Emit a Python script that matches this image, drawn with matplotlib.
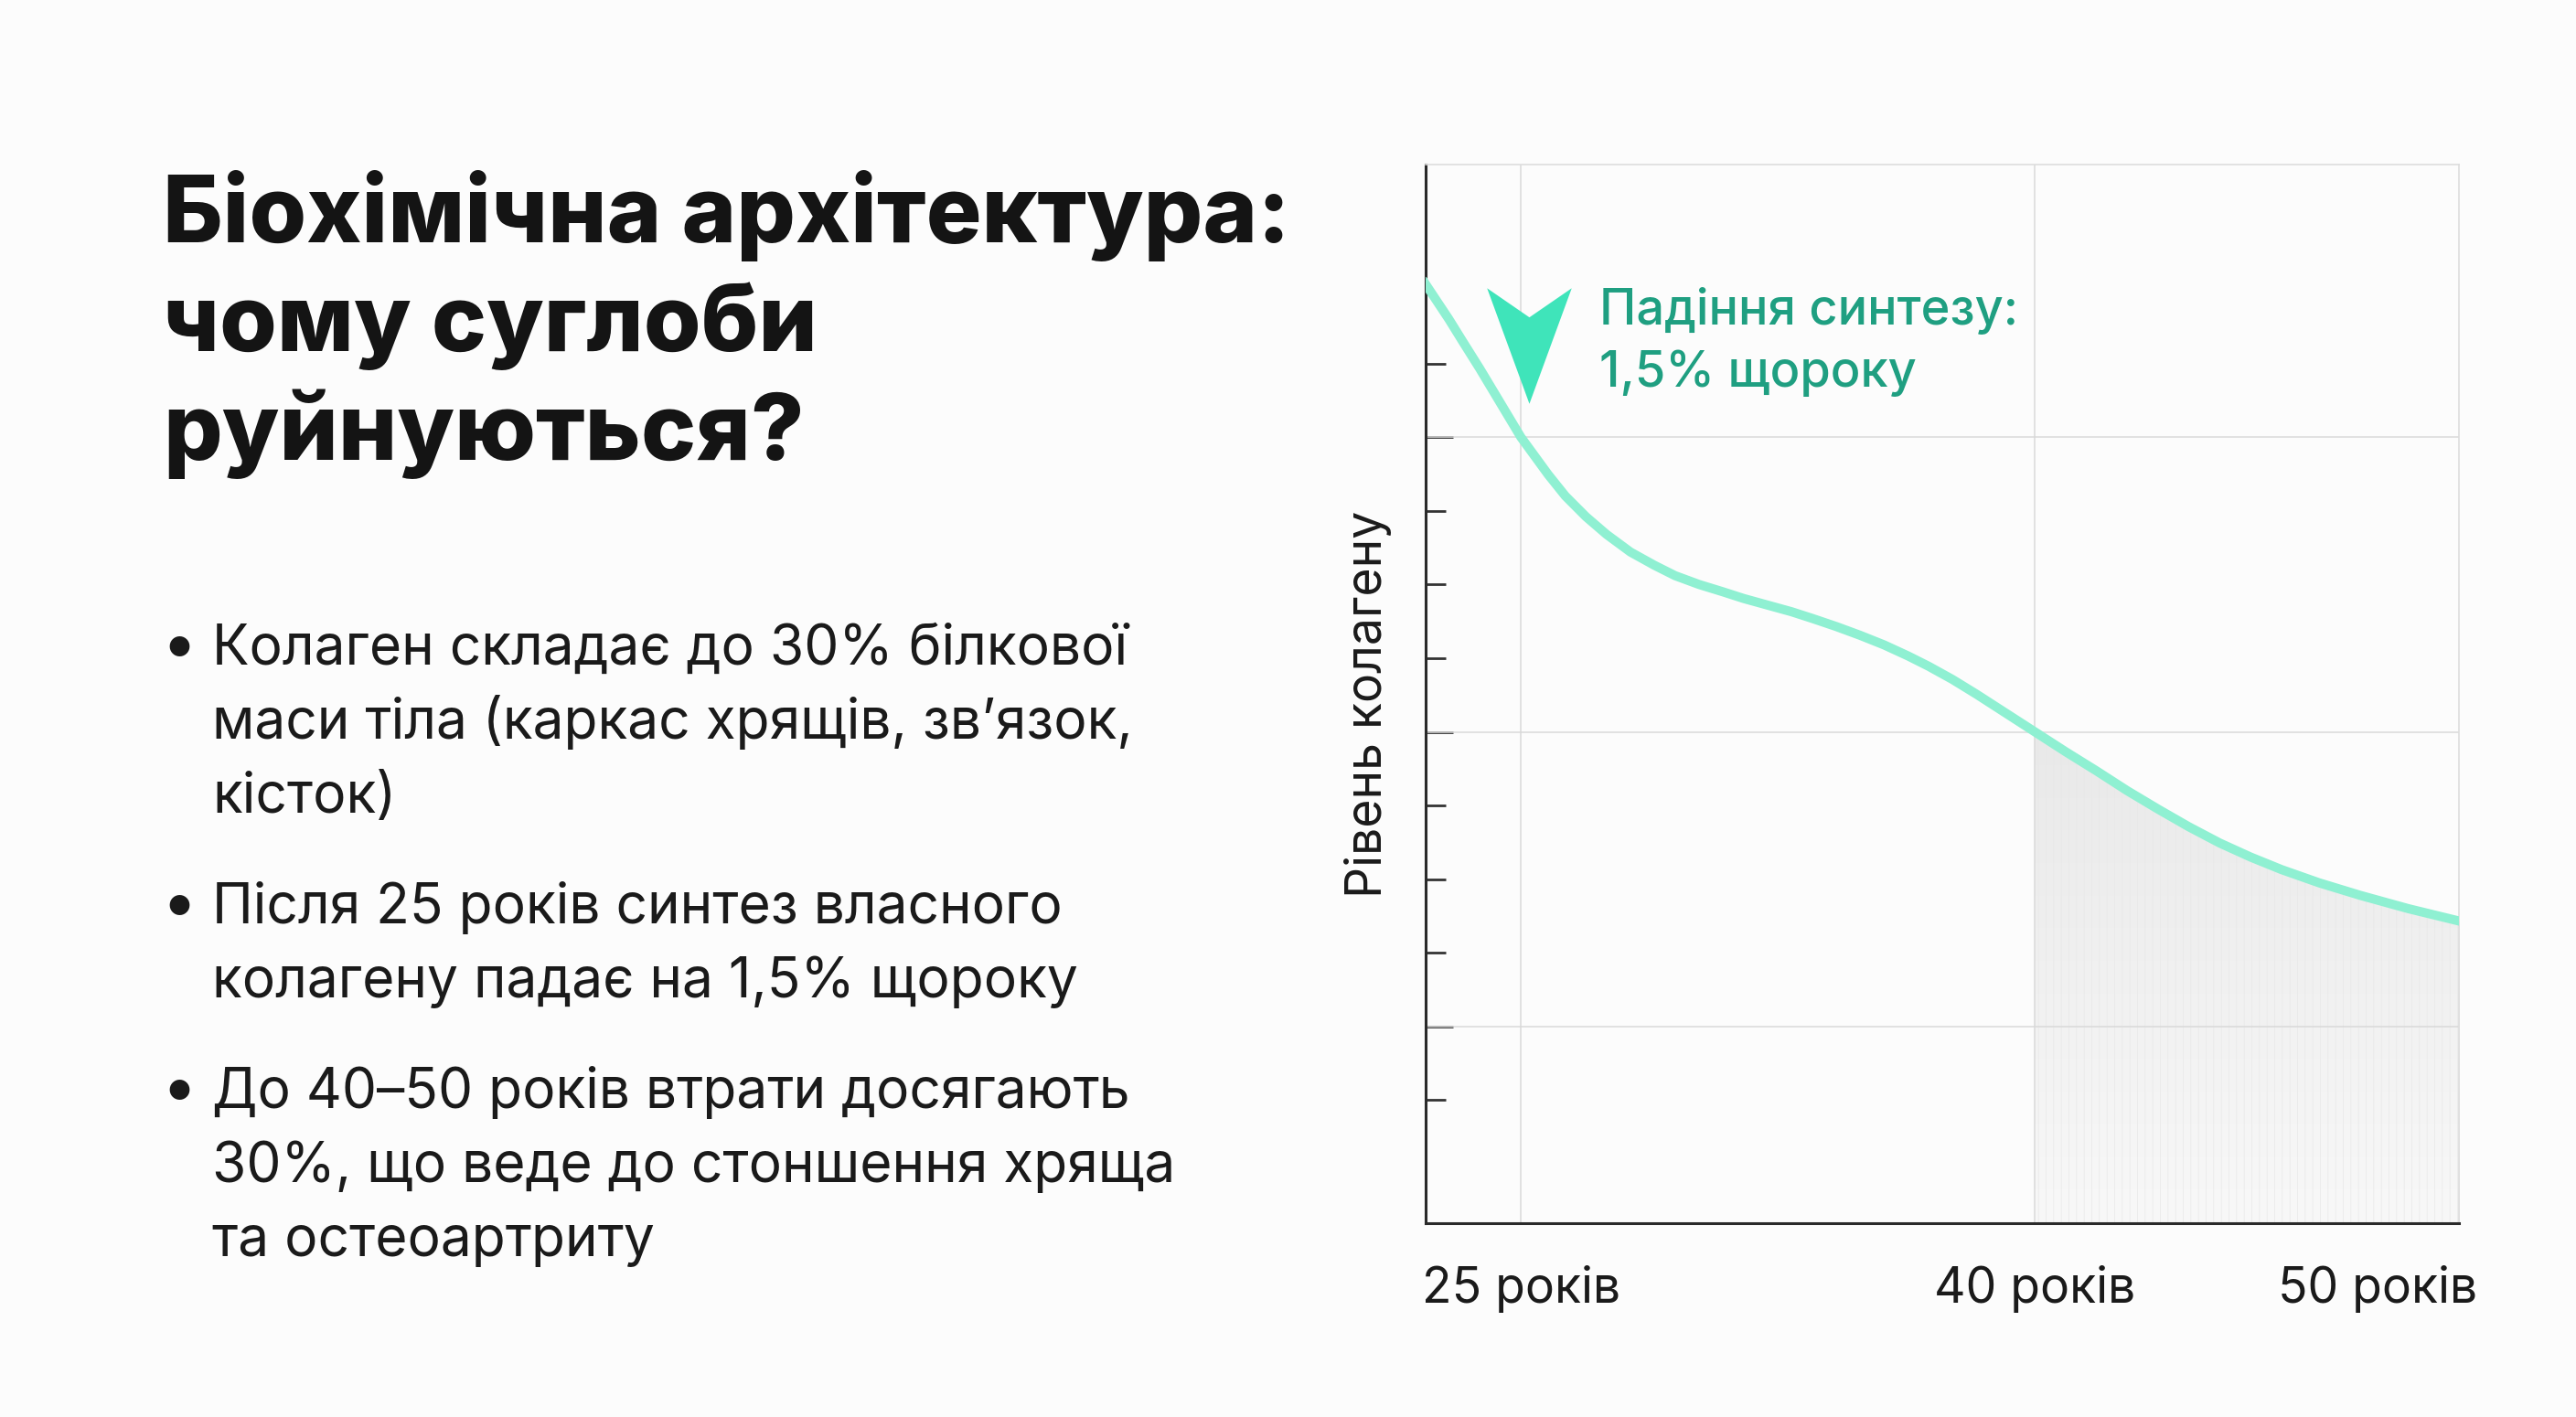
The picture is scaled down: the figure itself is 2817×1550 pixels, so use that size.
import numpy as np
import matplotlib.pyplot as plt
from matplotlib.path import Path
from matplotlib.colors import LinearSegmentedColormap

plt.rcParams['font.family'] = ['Inter', 'DejaVu Sans']
plt.rcParams['hatch.linewidth'] = 0.5

# collagen curve (age in years, level in relative units)
ages = [22.2, 22.9, 23.3, 23.8, 24.2, 25.0, 25.8, 26.3, 26.9, 27.5, 28.2, 28.9,
        29.5, 30.2, 30.9, 31.5, 32.2, 32.9, 33.5, 34.2, 34.9, 35.6, 36.3, 36.9,
        37.6, 38.3, 39.1, 40.0, 40.9, 41.8, 42.7, 43.6, 44.5, 45.4, 46.3, 47.2,
        48.3, 49.5, 50.9, 52.4]
level = [120.9, 116.0, 113.0, 109.3, 106.2, 100.0, 94.9, 92.0, 89.2, 86.8, 84.4, 82.6,
         81.2, 80.0, 79.0, 78.1, 77.2, 76.3, 75.4, 74.3, 73.1, 71.8, 70.3, 68.9,
         67.1, 65.1, 62.7, 60.0, 57.3, 54.7, 52.0, 49.5, 47.1, 44.9, 43.0, 41.3,
         39.5, 37.8, 36.0, 34.3]

tick_ages = [25, 40, 50]
tick_labels = ['25 років', '40 років', '50 років']
grid_ages = [25, 40]
y_major = [20, 60, 100]
y_minor = [10, 30, 40, 50, 70, 80, 90, 110]
loss_start = 40

title_lines = ['Біохімічна архітектура:', 'чому суглоби', 'руйнуються?']
bullets = [
    ['Колаген складає до 30% білкової', 'маси тіла (каркас хрящів, зв’язок,', 'кісток)'],
    ['Після 25 років синтез власного', 'колагену падає на 1,5% щороку'],
    ['До 40–50 років втрати досягають', '30%, що веде до стоншення хряща', 'та остеоартриту'],
]
note_lines = ['Падіння синтезу:', '1,5% щороку']
note_age, note_level = 27.3, 115.3
arrow_age, arrow_level = 25.24, 112.4

W, H = 2817, 1550
bg = '#fcfcfc'
fig = plt.figure(figsize=(W / 100, H / 100), dpi=100, facecolor=bg)

# ---- left side text
def fx(px):
    return px / W

def fy(py):
    return 1 - py / H

for i, line in enumerate(title_lines):
    fig.text(fx(178), fy(265 + i * 119), line, fontsize=73, fontweight='heavy',
             color='#141414', va='baseline', ha='left')

base = 727
for block in bullets:
    fig.text(fx(176), fy(base), '•', fontsize=50, color='#1a1a1a', va='baseline')
    for line in block:
        fig.text(fx(232), fy(base), line, fontsize=43.5, color='#1a1a1a', va='baseline')
        base += 81
    base += 40

# ---- chart
ax = fig.add_axes([1559 / W, 1 - 1338 / H, 1130 / W, 1158 / H])
ax.set_facecolor(bg)
x = np.array(ages)
y = np.array(level)
ylo, yhi = -6.7, 137.0

# shaded loss area after 40 years
mask = x >= loss_start
poly = ax.fill_between(x[mask], y[mask], ylo, color='#eeeeee', lw=0, zorder=1)
grad = np.linspace(0, 1, 256).reshape(-1, 1)
cmap = LinearSegmentedColormap.from_list('fade', ['#f8f8f8', '#e9e9e9'])
im = ax.imshow(grad, extent=[loss_start, x[-1], ylo, y[mask].max()], origin='lower',
               cmap=cmap, aspect='auto', zorder=1.1)
im.set_clip_path(poly.get_paths()[0], transform=ax.transData)
ax.fill_between(x[mask], y[mask], ylo, facecolor='none', edgecolor='#e8e8e8',
                hatch='||', lw=0, zorder=1.2)

for g in grid_ages:
    ax.axvline(g, color='#d9d9d9', lw=1.1, zorder=2)
for g in y_major:
    ax.axhline(g, color='#d9d9d9', lw=1.1, zorder=2)

ax.plot(x, y, color='#8ff0d2', lw=7.2, solid_joinstyle='round', zorder=3)

arrow = Path([(-0.366, 0.5), (0, 0.248), (0.366, 0.5), (0, -0.5), (-0.366, 0.5)],
             [Path.MOVETO, Path.LINETO, Path.LINETO, Path.LINETO, Path.CLOSEPOLY])
ax.plot([arrow_age], [arrow_level], marker=arrow, ms=91, color='#3fe4ba', mew=0,
        linestyle='none', zorder=4)

for i, line in enumerate(note_lines):
    ax.text(note_age, note_level - i * 8.45, line, fontsize=39, fontweight='medium',
            color='#1f9f81', va='baseline', ha='left', zorder=5)

ax.set_xlim(22.22, 52.38)
ax.set_ylim(ylo, yhi)

ax.set_xticks(tick_ages, tick_labels)
ax.tick_params(axis='x', length=0, pad=33, labelsize=38.5, labelcolor='#1a1a1a')
ax.set_yticks(y_major)
ax.set_yticks(y_minor, minor=True)
ax.tick_params(axis='y', which='major', direction='in', length=21.6, width=2,
               color='#333333', labelleft=False)
ax.tick_params(axis='y', which='minor', direction='in', length=15.8, width=2,
               color='#333333')
ax.set_ylabel('Рівень колагену', fontsize=38.5, color='#1a1a1a')
ax.yaxis.set_label_coords(-0.033, 0.49)

for s in ['left', 'bottom']:
    ax.spines[s].set_color('#2a2a2a')
    ax.spines[s].set_linewidth(2.2)
for s in ['top', 'right']:
    ax.spines[s].set_color('#dddddd')
    ax.spines[s].set_linewidth(1.2)

fig.savefig('out.png', dpi=100, facecolor=bg)
